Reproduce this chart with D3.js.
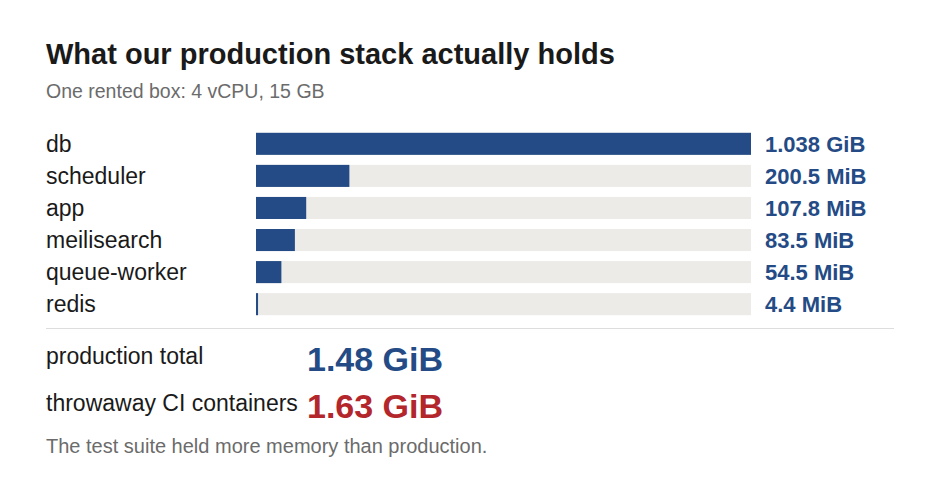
<!DOCTYPE html>
<html><head><meta charset="utf-8">
<script src="https://cdn.jsdelivr.net/npm/d3@7"></script>
<style>body{margin:0;background:#fff;font-family:"Liberation Sans",Arial,sans-serif}</style>
</head><body><svg id="c" width="940" height="500"></svg>
<script>
// Data
const services = ["db", "scheduler", "app", "meilisearch", "queue-worker", "redis"];
const memMiB = [1062.9, 200.5, 107.8, 83.5, 54.5, 4.4];
const memLabels = ["1.038 GiB", "200.5 MiB", "107.8 MiB", "83.5 MiB", "54.5 MiB", "4.4 MiB"];
const totals = ["production total", "throwaway CI containers"];
const totalLabels = ["1.48 GiB", "1.63 GiB"];

const blue = "#244b85", red = "#b3262b", grey = "#6b6b6b";
const svg = d3.select("#c");

svg.append("text").attr("x", 46).attr("y", 64)
    .attr("font-size", 29).attr("font-weight", "bold").attr("fill", "#1a1a1a")
    .text("What our production stack actually holds");
svg.append("text").attr("x", 46).attr("y", 98)
    .attr("font-size", 19.5).attr("fill", grey)
    .text("One rented box: 4 vCPU, 15 GB");

let x = d3.scaleLinear().domain([0, d3.max(memMiB)]).range([256, 751]);
let y = d3.scaleBand().domain(services).range([128, 320]).paddingInner(0.3125).paddingOuter(0.15);

let rows = svg.append("g").selectAll("g").data(services).enter().append("g");
rows.append("rect").attr("x", x(0)).attr("y", d => y(d))
    .attr("width", x.range()[1] - x(0)).attr("height", y.bandwidth()).attr("fill", "#ecebe8");
rows.append("rect").attr("x", x(0)).attr("y", d => y(d))
    .attr("width", (d, i) => Math.max(2, x(memMiB[i]) - x(0))).attr("height", y.bandwidth()).attr("fill", blue);
rows.append("text").attr("x", 46).attr("y", d => y(d) + y.bandwidth() / 2).attr("dy", "0.35em")
    .attr("font-size", 23).attr("fill", "#1a1a1a").text(d => d);
rows.append("text").attr("x", 765).attr("y", d => y(d) + y.bandwidth() / 2).attr("dy", "0.35em")
    .attr("font-size", 22).attr("font-weight", "bold").attr("fill", blue).text((d, i) => memLabels[i]);

svg.append("line").attr("x1", 46).attr("x2", 894).attr("y1", 328.5).attr("y2", 328.5)
    .attr("stroke", "#dddddd");

totals.forEach((t, i) => {
    svg.append("text").attr("x", 46).attr("y", 364 + i * 47).attr("font-size", 23)
        .attr("fill", "#1a1a1a").text(t);
    svg.append("text").attr("x", 307).attr("y", 371 + i * 47).attr("font-size", 34)
        .attr("font-weight", "bold").attr("fill", i ? red : blue).text(totalLabels[i]);
});

svg.append("text").attr("x", 46).attr("y", 453).attr("font-size", 20).attr("fill", grey)
    .text("The test suite held more memory than production.");
</script></body></html>
